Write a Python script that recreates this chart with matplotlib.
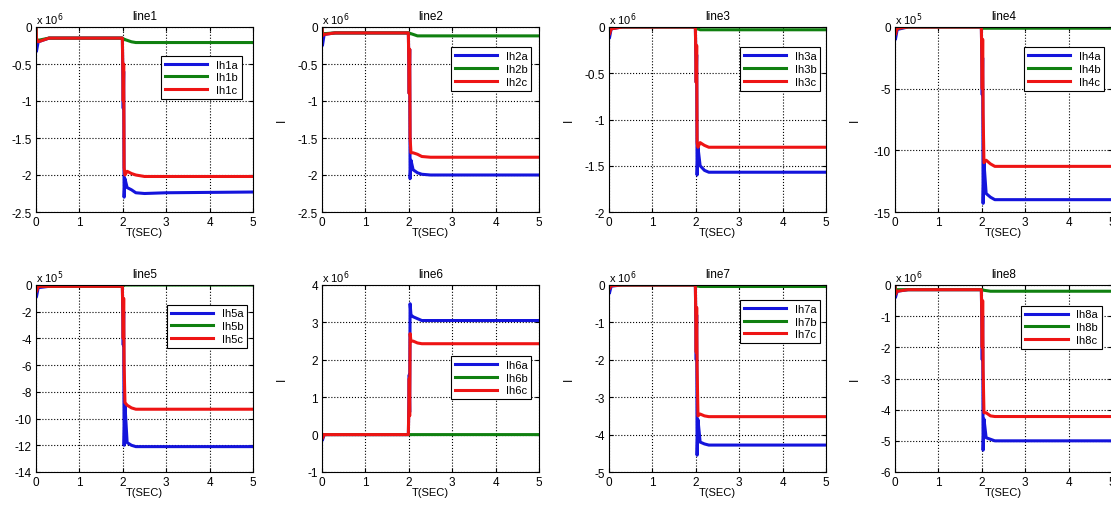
import matplotlib
matplotlib.use('Agg')
import matplotlib.pyplot as plt

plt.rcParams['font.family'] = ['Liberation Sans', 'DejaVu Sans']

# shared time samples (seconds)
t = [0.0, 0.01, 0.05, 0.3, 1.99, 2.01, 2.02, 2.03, 2.05, 2.1, 2.2, 2.3, 2.5, 3.0, 5.0]

# values, in units of the panel's power of ten
ih1a = [0, -0.33, -0.2, -0.15, -0.15, -1.1, -0.6, -2.3, -2.05, -2.17, -2.2, -2.24, -2.25, -2.24, -2.23]
ih1b = [0, -0.2, -0.18, -0.15, -0.15, -0.16, -0.16, -0.17, -0.17, -0.18, -0.2, -0.21, -0.21, -0.21, -0.21]
ih1c = [0, -0.15, -0.2, -0.15, -0.15, -1.0, -0.5, -1.9, -2.0, -1.95, -1.98, -2.0, -2.02, -2.02, -2.02]

ih2a = [0, -0.25, -0.1, -0.08, -0.08, -0.9, -0.3, -2.05, -1.8, -1.93, -1.97, -1.99, -2.0, -2.0, -2.0]
ih2b = [0, -0.1, -0.09, -0.08, -0.08, -0.08, -0.09, -0.09, -0.09, -0.1, -0.12, -0.12, -0.12, -0.12, -0.12]
ih2c = [0, -0.12, -0.1, -0.08, -0.08, -0.9, -0.3, -1.5, -1.7, -1.7, -1.72, -1.75, -1.76, -1.76, -1.76]

ih3a = [0, -0.12, -0.02, 0, 0, -0.6, -0.3, -1.6, -1.3, -1.5, -1.55, -1.57, -1.57, -1.57, -1.57]
ih3b = [0, -0.02, -0.01, 0, 0, -0.01, -0.02, -0.02, -0.02, -0.03, -0.03, -0.03, -0.03, -0.03, -0.03]
ih3c = [0, -0.08, -0.02, 0, 0, -0.6, -0.2, -1.25, -1.3, -1.25, -1.28, -1.3, -1.3, -1.3, -1.3]

ih4a = [0, -1.0, -0.2, 0, 0, -5.5, -2.5, -14.3, -11, -13.5, -13.8, -14, -14, -14, -14]
ih4b = [0, -0.2, -0.1, 0, 0, -0.05, -0.1, -0.1, -0.1, -0.1, -0.1, -0.1, -0.1, -0.1, -0.1]
ih4c = [0, -0.6, -0.1, 0, 0, -5, -1, -7, -11, -10.8, -11.1, -11.3, -11.3, -11.3, -11.3]

ih5a = [0, -0.9, -0.2, -0.1, -0.1, -4.5, -2, -12, -9, -11.8, -12, -12.1, -12.1, -12.1, -12.1]
ih5b = [0, -0.3, -0.1, -0.1, -0.1, -0.05, 0, 0, 0, 0, 0, 0, 0, 0, 0]
ih5c = [0, -0.5, -0.1, -0.1, -0.1, -4, -1, -6, -8.8, -9.0, -9.2, -9.3, -9.3, -9.3, -9.3]

ih6a = [0, -0.15, 0, 0, 0, 1.6, 0.6, 3.5, 3.2, 3.15, 3.1, 3.05, 3.05, 3.05, 3.05]
ih6b = [0, -0.05, 0, 0, 0, 0, 0, 0, 0, 0, 0, 0, 0, 0, 0]
ih6c = [0, -0.1, 0, 0, 0, 1.5, 0.5, 2.7, 2.5, 2.5, 2.45, 2.43, 2.43, 2.43, 2.43]

ih7a = [0, -0.22, -0.03, 0, 0, -2, -0.8, -4.55, -3.6, -4.2, -4.25, -4.28, -4.28, -4.28, -4.28]
ih7b = [0, -0.05, -0.01, 0, 0, -0.02, -0.03, -0.03, -0.03, -0.04, -0.04, -0.04, -0.04, -0.04, -0.04]
ih7c = [0, -0.1, -0.02, 0, 0, -1.8, -0.6, -2.2, -3.5, -3.45, -3.5, -3.52, -3.52, -3.52, -3.52]

ih8a = [0, -0.4, -0.2, -0.15, -0.15, -2.4, -1, -5.3, -4.3, -4.9, -4.95, -5.0, -5.0, -5.0, -5.0]
ih8b = [0, -0.2, -0.15, -0.15, -0.15, -0.15, -0.16, -0.16, -0.17, -0.18, -0.2, -0.2, -0.2, -0.2, -0.2]
ih8c = [0, -0.3, -0.2, -0.15, -0.15, -2.0, -0.5, -2.7, -4.1, -4.1, -4.2, -4.22, -4.22, -4.22, -4.22]

exponents = [6, 6, 6, 5, 5, 6, 6, 6]
ylims = [(-2.5, 0), (-2.5, 0), (-2, 0), (-15, 0), (-14, 0), (-1, 4), (-5, 0), (-6, 0)]
yticks = [[-2.5, -2, -1.5, -1, -0.5, 0], [-2.5, -2, -1.5, -1, -0.5, 0],
          [-2, -1.5, -1, -0.5, 0], [-15, -10, -5, 0], [-14, -12, -10, -8, -6, -4, -2, 0],
          [-1, 0, 1, 2, 3, 4], [-5, -4, -3, -2, -1, 0], [-6, -5, -4, -3, -2, -1, 0]]
series = [(ih1a, ih1b, ih1c), (ih2a, ih2b, ih2c), (ih3a, ih3b, ih3c), (ih4a, ih4b, ih4c),
          (ih5a, ih5b, ih5c), (ih6a, ih6b, ih6c), (ih7a, ih7b, ih7c), (ih8a, ih8b, ih8c)]
legend_anchor = [(0.975, 0.875), (0.99, 0.92), (1.0, 0.92), (0.99, 0.92),
                 (1.0, 0.925), (0.99, 0.65), (1.0, 0.95), (0.98, 0.92)]

colors = ['#1414dc', '#108010', '#ee1414']

W, H = 1111, 506
fig = plt.figure(figsize=(W / 100, H / 100), dpi=100)

lefts = [36, 322, 609, 895]
rows = [(28, 213), (286, 473)]

for i in range(8):
    r, c = divmod(i, 4)
    top, bot = rows[r]
    ax = fig.add_axes([lefts[c] / W, (H - bot) / H, 217 / W, (bot - top) / H])
    for k, (vals, col) in enumerate(zip(series[i], colors)):
        ax.plot(t, vals, color=col, lw=2.2, label='Ih%d%s' % (i + 1, 'abc'[k]))
    ax.set_xlim(0, 5)
    ax.set_ylim(*ylims[i])
    ax.set_xticks([0, 1, 2, 3, 4, 5])
    ax.set_yticks(yticks[i])
    ax.set_yticklabels(['%g' % v for v in yticks[i]])
    ax.grid(True, color='black', linestyle=':', linewidth=0.8)
    ax.tick_params(direction='in', top=True, right=True, length=3, labelsize=8.5, pad=3)
    ax.set_title('line%d' % (i + 1), fontsize=8.5, pad=6)
    ax.set_xlabel('T(SEC)', fontsize=8)
    ax.xaxis.set_label_coords(0.5, -0.08)
    ax.set_ylabel('I', fontsize=8.5)
    ax.yaxis.set_label_coords(-0.155, 0.5)
    ax.text(0.0, 1.0, r'x 10$^{%d}$' % exponents[i], transform=ax.transAxes,
            fontsize=8, ha='left', va='bottom')
    leg = ax.legend(loc='upper right', bbox_to_anchor=legend_anchor[i], fontsize=8,
                    handlelength=3.8, labelspacing=0.25, borderpad=0.35,
                    fancybox=False, framealpha=1, edgecolor='black')
    leg.get_frame().set_linewidth(0.8)

fig.savefig('out.png', dpi=100)
